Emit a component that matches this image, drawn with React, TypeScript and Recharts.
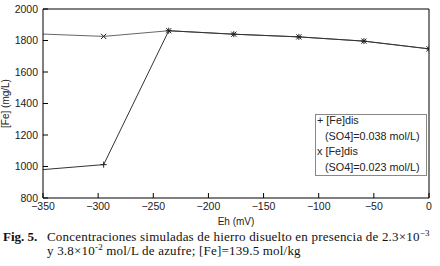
import React from 'react';
import { LineChart, Line, XAxis, YAxis, ReferenceLine } from 'recharts';

const ehValues = [-354, -295, -236, -177, -118, -59, 0];
const feSO4_038 = [978, 1012, 1862, 1840, 1823, 1796, 1747];
const feSO4_023 = [1842, 1826, 1862, 1840, 1823, 1796, 1747];
const xTicks = [-350, -300, -250, -200, -150, -100, -50, 0];
const yTicks = [800, 1000, 1200, 1400, 1600, 1800, 2000];
const seriesNames = ['[Fe]dis (SO4]=0.038 mol/L)', '[Fe]dis (SO4]=0.023 mol/L)'];

const data = ehValues.map((eh, i) => ({ eh, s1: feSO4_038[i], s2: feSO4_023[i] }));

const fmt = (v: number) => (v < 0 ? '\u2212' + Math.abs(v) : String(v));

const PlusDot = (props: any) => {
  const { cx, cy, index } = props;
  if (cx == null || cy == null || index === 0) return <g key={`p${index}`} />;
  const r = 3;
  return (
    <g key={`p${index}`}>
      <line x1={cx - r} x2={cx + r} y1={cy} y2={cy} stroke="#222" strokeWidth={1} />
      <line x1={cx} x2={cx} y1={cy - r} y2={cy + r} stroke="#222" strokeWidth={1} />
    </g>
  );
};

const CrossDot = (props: any) => {
  const { cx, cy, index } = props;
  if (cx == null || cy == null || index === 0) return <g key={`x${index}`} />;
  const r = 2.6;
  return (
    <g key={`x${index}`}>
      <line x1={cx - r} x2={cx + r} y1={cy - r} y2={cy + r} stroke="#222" strokeWidth={1} />
      <line x1={cx - r} x2={cx + r} y1={cy + r} y2={cy - r} stroke="#222" strokeWidth={1} />
    </g>
  );
};

const LegendBox = () => (
  <div
    style={{
      position: 'absolute',
      left: 315,
      top: 114,
      width: 109,
      height: 60,
      border: '1px solid #888',
      background: '#fff',
      fontFamily: '"Liberation Sans", Arial, sans-serif',
      fontSize: 10.8,
      lineHeight: '15.6px',
      color: '#222',
      paddingLeft: 1,
      boxSizing: 'content-box',
      textAlign: 'left',
      whiteSpace: 'nowrap',
    }}
  >
    <div style={{ position: 'relative', top: -2 }}>
      <div>+ [Fe]dis</div>
      <div style={{ paddingLeft: 8 }}>(SO4]=0.038 mol/L)</div>
      <div>x [Fe]dis</div>
      <div style={{ paddingLeft: 8 }}>(SO4]=0.023 mol/L)</div>
    </div>
  </div>
);

export default function App() {
  const tickStyle = { fontFamily: '"Liberation Sans", Arial, sans-serif', fontSize: 10.5, fill: '#222' };
  return (
    <div style={{ position: 'absolute', left: 0, top: 0, width: 440, height: 266, background: '#fff' }}>
      <LineChart width={440} height={266} data={data} margin={{ top: 9, right: 11, bottom: 38, left: 0 }}>
        <XAxis
          dataKey="eh"
          type="number"
          domain={[-350, 0]}
          allowDataOverflow
          ticks={xTicks}
          tickFormatter={fmt}
          tickSize={-5}
          tickMargin={10}
          height={30}
          stroke="#000"
          tick={tickStyle}
          label={{ value: 'Eh (mV)', position: 'insideBottom', offset: 3, style: { ...tickStyle, fontSize: 10 } }}
        />
        <YAxis
          type="number"
          domain={[800, 2000]}
          allowDataOverflow
          ticks={yTicks}
          tickSize={-5}
          tickMargin={10}
          width={43}
          stroke="#000"
          tick={tickStyle}
          label={{
            value: '[Fe] (mg/L)',
            angle: -90,
            position: 'insideLeft',
            offset: 5,
            style: { ...tickStyle, fontSize: 10, textAnchor: 'middle' },
          }}
        />
        <ReferenceLine y={2000} stroke="#000" />
        <ReferenceLine x={0} stroke="#000" />
        <Line
          name={seriesNames[1]}
          dataKey="s2"
          type="linear"
          stroke="#666"
          strokeWidth={1}
          dot={CrossDot}
          activeDot={false}
          isAnimationActive={false}
        />
        <Line
          name={seriesNames[0]}
          dataKey="s1"
          type="linear"
          stroke="#333"
          strokeWidth={1}
          dot={PlusDot}
          activeDot={false}
          isAnimationActive={false}
        />
      </LineChart>
      <LegendBox />
      <div
        style={{
          position: 'absolute',
          left: 3,
          top: 230,
          width: 437,
          fontFamily: '"Liberation Serif", "Times New Roman", serif',
          fontSize: 13,
          letterSpacing: 0.2,
          lineHeight: '14px',
          color: '#111',
          display: 'flex',
        }}
      >
        <div style={{ width: 44, fontWeight: 'bold', flexShrink: 0, letterSpacing: 0 }}>Fig. 5.</div>
        <div style={{ whiteSpace: 'nowrap' }}>
          <div style={{ height: 14 }}>
            Concentraciones simuladas de hierro disuelto en presencia de 2.3×10
            <span style={{ fontSize: 9, position: 'relative', top: -5 }}>−3</span>
          </div>
          <div style={{ height: 14 }}>
            y 3.8×10<span style={{ fontSize: 9, position: 'relative', top: -5 }}>-2</span> mol/L de azufre; [Fe]=139.5 mol/kg
          </div>
        </div>
      </div>
    </div>
  );
}
